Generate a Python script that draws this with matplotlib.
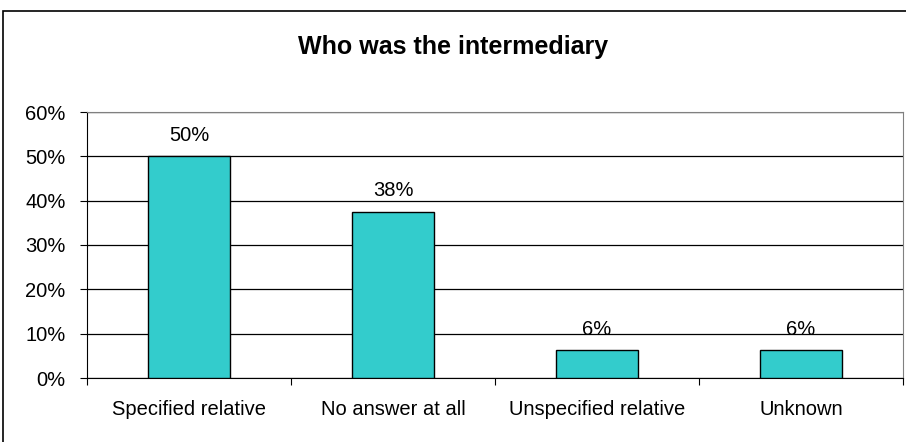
import matplotlib.pyplot as plt
from matplotlib.patches import Rectangle

categories = ['Specified relative', 'No answer at all', 'Unspecified relative', 'Unknown']
shares = [50.0, 37.5, 6.25, 6.25]
labels = ['50%', '38%', '6%', '6%']
yticks = [0, 10, 20, 30, 40, 50, 60]

plt.rcParams['font.family'] = ['Liberation Sans', 'DejaVu Sans']

fig = plt.figure(figsize=(9.06, 4.42), dpi=100)
W, H = 906, 442

# chart frame (cropped on right/bottom in the original)
fig.patches.append(Rectangle((3 / W, -0.1), 1.2, 1 - 11 / H + 0.1, transform=fig.transFigure,
                             fill=False, edgecolor='black', linewidth=1.2))

ax = fig.add_axes([87 / W, 1 - 378 / H, (903 - 87) / W, (378 - 112) / H])

x = range(len(categories))
ax.bar(x, shares, width=0.4, color='#33CCCC', edgecolor='black', linewidth=1, zorder=3)

for xi, v, lab in zip(x, shares, labels):
    ax.annotate(lab, (xi, v), xytext=(0, 11), textcoords='offset points',
                ha='center', va='baseline', fontsize=14.5, zorder=4)

ax.set_xlim(-0.5, len(categories) - 0.5)
ax.set_ylim(0, 60)
ax.set_yticks(yticks)
ax.set_yticklabels([f'{t}%' for t in yticks], fontsize=14.5)
ax.yaxis.grid(True, color='black', linewidth=0.9, zorder=0)

ax.set_xticks(list(x))
ax.set_xticklabels(categories, fontsize=14.5)
ax.set_xticks([i - 0.5 for i in range(len(categories) + 1)], minor=True)
ax.tick_params(axis='x', which='major', length=0, pad=16)
ax.tick_params(axis='x', which='minor', length=5, direction='out', width=0.8)
ax.tick_params(axis='y', length=5, direction='out', width=0.8, pad=10.5)

ax.spines['top'].set_color('#808080')
ax.spines['right'].set_color('#808080')
for s in ['left', 'bottom']:
    ax.spines[s].set_color('black')

fig.text(0.5, 1 - 47 / H, 'Who was the intermediary', ha='center', va='center',
         fontsize=18, fontweight='bold')

fig.savefig('out.png', dpi=100)
